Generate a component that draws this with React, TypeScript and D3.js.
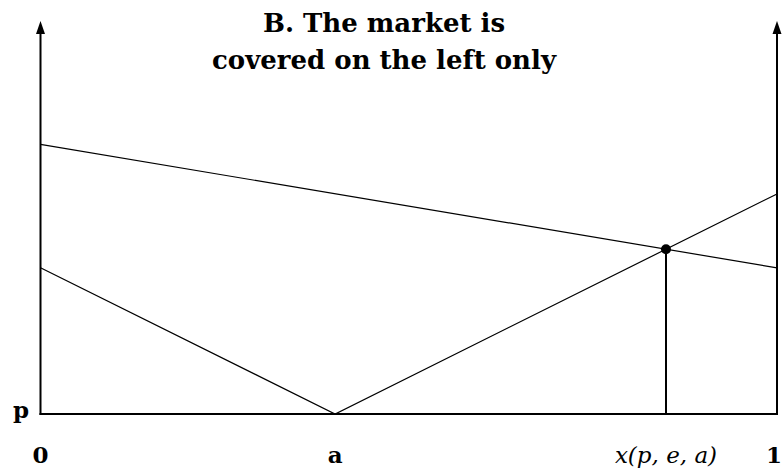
import React from "react";
import * as d3 from "d3";

// Horizontal positions along the unit interval
const xDomain = [0, 1];
const aPoint = 0.4;

// Price-style line falling from left to right
const upperLine = [
  { x: 0, y: 0.686 },
  { x: 1, y: 0.372 },
];

// V-shaped line with its vertex at a
const vLine = [
  { x: 0, y: 0.372 },
  { x: aPoint, y: 0 },
  { x: 1, y: 0.56 },
];

// Axis labels below the baseline
const xLabels = [
  { x: 0, text: "0", anchor: "middle", dx: 0 },
  { x: aPoint, text: "a", anchor: "middle", dx: 0 },
  { x: 1, text: "1", anchor: "end", dx: 5 },
];

const titleLines = ["B. The market is", "covered on the left only"];

const W = 783;
const H = 475;

export default function App() {
  const x = d3.scaleLinear().domain(xDomain).range([40.5, 777]);
  const y = d3.scaleLinear().domain([0, 1]).range([414, 21]);

  const line = d3
    .line<{ x: number; y: number }>()
    .x((d) => x(d.x))
    .y((d) => y(d.y));

  // intersection of upper line with right branch of the V
  const s1 = (upperLine[1].y - upperLine[0].y) / (upperLine[1].x - upperLine[0].x);
  const s2 = (vLine[2].y - vLine[1].y) / (vLine[2].x - vLine[1].x);
  const ix = (upperLine[0].y + s2 * aPoint) / (s2 - s1);
  const iy = upperLine[0].y + s1 * ix;

  const serif = "'DejaVu Serif', serif";
  const arrow = (cx: number) =>
    `M${cx},${y(1)} L${cx - 4.5},${y(1) + 13} L${cx + 4.5},${y(1) + 13} Z`;

  return (
    <svg
      width={W}
      height={H}
      style={{ position: "absolute", left: 0, top: 0, background: "#fff" }}
    >
      {/* axes */}
      <line x1={x(0)} x2={x(0)} y1={y(0) + 1} y2={y(1) + 8} stroke="#000" strokeWidth={2} />
      <line x1={x(1)} x2={x(1)} y1={y(0) + 1} y2={y(1) + 8} stroke="#000" strokeWidth={2} />
      <line x1={x(0) - 1} x2={x(1) + 1} y1={y(0)} y2={y(0)} stroke="#000" strokeWidth={2} />
      <path d={arrow(x(0))} fill="#000" />
      <path d={arrow(x(1))} fill="#000" />

      {/* curves */}
      <path d={line(upperLine) ?? ""} fill="none" stroke="#000" strokeWidth={1.2} />
      <path d={line(vLine) ?? ""} fill="none" stroke="#000" strokeWidth={1.2} />

      {/* equilibrium marker */}
      <line x1={x(ix)} x2={x(ix)} y1={y(iy)} y2={y(0)} stroke="#000" strokeWidth={2} />
      <circle cx={x(ix)} cy={y(iy)} r={5} fill="#000" />

      {/* title */}
      {titleLines.map((t, i) => (
        <text
          key={t}
          x={384}
          y={32 + i * 37}
          textAnchor="middle"
          fontFamily={serif}
          fontWeight="bold"
          fontSize={26}
        >
          {t}
        </text>
      ))}

      {/* labels */}
      <text x={21} y={418} textAnchor="middle" fontFamily={serif} fontWeight="bold" fontSize={23}>
        p
      </text>
      {xLabels.map((l) => (
        <text
          key={l.text}
          x={x(l.x) + l.dx}
          y={463}
          textAnchor={l.anchor}
          fontFamily={serif}
          fontWeight="bold"
          fontSize={23}
        >
          {l.text}
        </text>
      ))}
      <text
        x={x(ix)}
        y={463}
        textAnchor="middle"
        fontFamily={serif}
        fontStyle="italic"
        fontSize={23}
      >
        x(p, e, a)
      </text>
    </svg>
  );
}
